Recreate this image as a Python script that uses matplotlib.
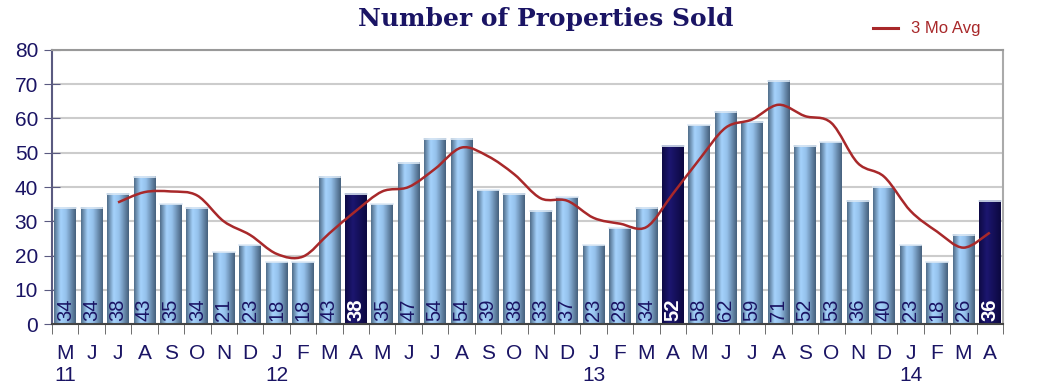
import matplotlib
matplotlib.use("Agg")
import matplotlib.pyplot as plt
import numpy as np
from matplotlib.path import Path
from matplotlib.patches import PathPatch
from matplotlib.colors import LinearSegmentedColormap
from matplotlib.lines import Line2D

plt.rcParams['font.family'] = ['Liberation Sans', 'DejaVu Sans']

months = ["M", "J", "J", "A", "S", "O", "N", "D", "J", "F", "M", "A"] * 3
years = {0: "11", 8: "12", 20: "13", 32: "14"}
sold = [34, 34, 38, 43, 35, 34, 21, 23, 18, 18, 43, 38,
        35, 47, 54, 54, 39, 38, 33, 37, 23, 28, 34, 52,
        58, 62, 59, 71, 52, 53, 36, 40, 23, 18, 26, 36]
highlight = [11, 23, 35]  # April bars
# 3 month average (starts at the third bar)
avg_start = 2
avg = [35.5, 38.5, 38.7, 37.5, 30, 26, 20.5, 19.7, 26.5, 33, 38.7, 40,
       45.3, 51.5, 49, 43.7, 36.7, 36, 31, 29.3, 28.3, 38, 48, 57.3,
       59.7, 64, 60.7, 58.7, 47, 43, 33, 27, 22.3, 26.7]

navy = '#1a1464'
fig = plt.figure(figsize=(10.42, 3.9), dpi=100)
ax = fig.add_axes([0.0499, 0.169, 0.9127, 0.703])

x = np.arange(len(sold))
w = 0.82
light = LinearSegmentedColormap.from_list(
    'cyl', [(0, '#4f6c88'), (0.3, '#a5d2fc'), (0.55, '#95c1eb'), (1, '#46607c')])
dark = LinearSegmentedColormap.from_list(
    'cyl2', [(0, '#0e0a45'), (0.35, '#1c1670'), (1, '#0c0840')])
grad = np.linspace(0, 1, 64).reshape(1, -1)

for i, v in enumerate(sold):
    cmap = dark if i in highlight else light
    ax.imshow(grad, cmap=cmap, extent=[i - w / 2, i + w / 2, 0, v],
              aspect='auto', zorder=2, interpolation='bicubic')
    ax.plot([i - w / 2, i + w / 2], [v, v], color='#dde9f5', lw=1.2, zorder=3)
    if i in highlight:
        ax.text(i, 1.0, str(v), rotation=90, ha='center', va='bottom',
                color='white', fontsize=14.5, fontweight='bold', zorder=4)
    else:
        ax.text(i, 1.0, str(v), rotation=90, ha='center', va='bottom',
                color=navy, fontsize=14.5, zorder=4)

# smooth 3 month average (Catmull-Rom as cubic Bezier)
pts = np.column_stack([np.arange(avg_start, avg_start + len(avg)), avg])
verts = [pts[0]]
codes = [Path.MOVETO]
for k in range(len(pts) - 1):
    p0 = pts[max(k - 1, 0)]
    p1 = pts[k]
    p2 = pts[k + 1]
    p3 = pts[min(k + 2, len(pts) - 1)]
    verts += [p1 + (p2 - p0) / 6, p2 - (p3 - p1) / 6, p2]
    codes += [Path.CURVE4] * 3
ax.add_patch(PathPatch(Path(verts, codes), fill=False, edgecolor='#a8282a',
                       lw=1.8, zorder=5))

ax.set_xlim(-0.5, len(sold) - 0.5)
ax.set_ylim(0, 80)
ax.set_yticks(np.arange(0, 81, 10))
ax.yaxis.grid(True, color='#cccccc', lw=1.5, zorder=0)
ax.set_axisbelow(True)
ax.tick_params(axis='y', direction='inout', length=12, color='#5a5a80',
               labelsize=15, labelcolor=navy, pad=4)

ax.set_xticks(x)
ax.set_xticklabels(months)
ax.set_xticks(np.arange(-0.5, len(sold), 1), minor=True)
ax.tick_params(axis='x', which='major', length=0, labelsize=15,
               labelcolor=navy, pad=14)
ax.tick_params(axis='x', which='minor', direction='out', length=7, color='#555555')
for i, yr in years.items():
    ax.text(i, -0.186, yr, transform=ax.get_xaxis_transform(), ha='center',
            va='center', fontsize=15, color=navy)

ax.spines['left'].set_color('#5a5a80')
ax.spines['left'].set_linewidth(1.5)
ax.spines['bottom'].set_color('#444444')
ax.spines['bottom'].set_linewidth(1.5)
ax.spines['top'].set_color('#999999')
ax.spines['top'].set_linewidth(1.5)
ax.spines['right'].set_color('#aaaaaa')
ax.spines['right'].set_linewidth(1.5)

fig.text(0.524, 0.952, "Number of Properties Sold", ha='center', va='center',
         fontsize=18, fontweight='bold', color=navy, family='DejaVu Serif')

fig.add_artist(Line2D([0.838, 0.862], [0.928, 0.928], color='#a8282a', lw=2.2))
fig.text(0.874, 0.928, "3 Mo Avg", ha='left', va='center', fontsize=12,
         color='#a8282a')

fig.savefig("out.png", dpi=100)
